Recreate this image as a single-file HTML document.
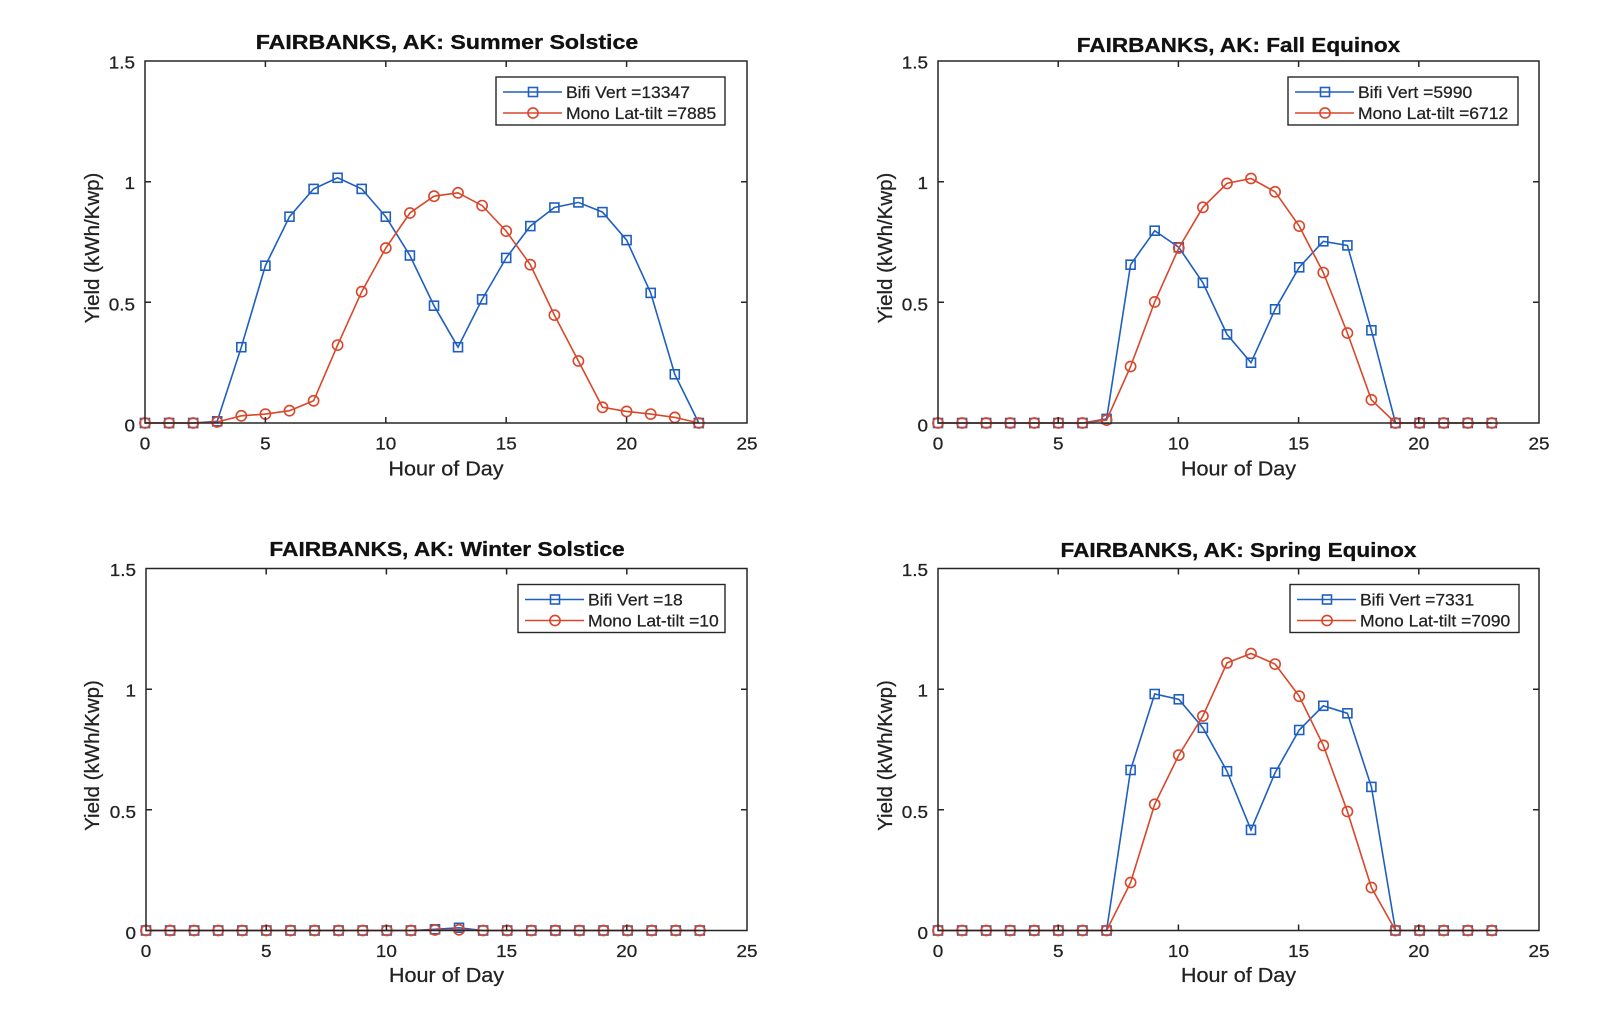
<!DOCTYPE html>
<html>
<head>
<meta charset="utf-8">
<style>
html,body{margin:0;padding:0;background:#fff;}
svg{display:block;}
text{font-family:"Liberation Sans",Arial,sans-serif;fill:#222;stroke:#222;stroke-width:0.25;}
.tk{font-size:17.5px;}
.lg{font-size:16.5px;}
.ttl{font-size:20.5px;font-weight:bold;fill:#111;stroke:#111;stroke-width:0.3;}
.xl{font-size:20px;}
.yl{font-size:20.5px;}
.ax{fill:none;stroke:#262626;stroke-width:1.5;}
.b{fill:none;stroke:#1f5fbf;stroke-width:1.6;marker-start:url(#sq);marker-mid:url(#sq);marker-end:url(#sq);}
.r{fill:none;stroke:#d9472b;stroke-width:1.6;marker-start:url(#ci);marker-mid:url(#ci);marker-end:url(#ci);}
</style>
</head>
<body>
<svg width="1600" height="1013" viewBox="0 0 1600 1013" xmlns="http://www.w3.org/2000/svg">
<defs>
<marker id="sq" markerWidth="14" markerHeight="14" refX="7" refY="7" markerUnits="userSpaceOnUse" overflow="visible"><rect x="2.5" y="2.5" width="9" height="9" fill="none" stroke="#1f5fbf" stroke-width="1.6"/></marker>
<marker id="ci" markerWidth="14" markerHeight="14" refX="7" refY="7" markerUnits="userSpaceOnUse" overflow="visible"><circle cx="7" cy="7" r="5.1" fill="none" stroke="#d9472b" stroke-width="1.6"/></marker>
</defs>
<rect width="1600" height="1013" fill="#fff"/>

<!-- ============ TOP LEFT ============ -->
<g transform="translate(145,61)">
<polyline class="b" points="0,362 24.1,362 48.2,362 72.2,360.3 96.3,286.2 120.4,204.7 144.5,155.7 168.6,127.9 192.6,116.8 216.7,127.9 240.8,155.7 264.9,194.5 289,244.7 313,286.2 337.1,238.4 361.2,196.9 385.3,165.1 409.4,146.5 433.4,141.4 457.5,151.1 481.6,179.1 505.7,231.9 529.8,313.3 553.8,362"/>
<polyline class="r" points="0,362 24.1,362 48.2,362 72.2,361 96.3,354.8 120.4,353.1 144.5,349.7 168.6,339.8 192.6,284.1 216.7,230.7 240.8,187 264.9,152 289,135.2 313,131.8 337.1,144.6 361.2,170.1 385.3,203.7 409.4,254.1 433.4,300 457.5,346.3 481.6,350.4 505.7,353.1 529.8,356.4 553.8,362"/>
<rect class="ax" x="0" y="0" width="602" height="362"/>
<path class="ax" d="M120.4,362v-6M240.8,362v-6M361.2,362v-6M481.6,362v-6M120.4,0v6M240.8,0v6M361.2,0v6M481.6,0v6M0,120.7h6M0,241.3h6M602,120.7h-6M602,241.3h-6"/>
<text class="tk" text-anchor="end" transform="translate(-10,7.5) scale(1.08,1)">1.5</text>
<text class="tk" text-anchor="end" transform="translate(-10,128) scale(1.08,1)">1</text>
<text class="tk" text-anchor="end" transform="translate(-10,249.5) scale(1.08,1)">0.5</text>
<text class="tk" text-anchor="end" transform="translate(-10,370.5) scale(1.08,1)">0</text>
<text class="tk" text-anchor="middle" transform="translate(0,388.5) scale(1.08,1)">0</text>
<text class="tk" text-anchor="middle" transform="translate(120.4,388.5) scale(1.08,1)">5</text>
<text class="tk" text-anchor="middle" transform="translate(240.8,388.5) scale(1.08,1)">10</text>
<text class="tk" text-anchor="middle" transform="translate(361.2,388.5) scale(1.08,1)">15</text>
<text class="tk" text-anchor="middle" transform="translate(481.6,388.5) scale(1.08,1)">20</text>
<text class="tk" text-anchor="middle" transform="translate(602,388.5) scale(1.08,1)">25</text>
<text class="xl" text-anchor="middle" transform="translate(301,414.5) scale(1.08,1)">Hour of Day</text>
<text class="yl" text-anchor="middle" transform="translate(-46,187) rotate(-90)">Yield (kWh/Kwp)</text>
<text class="ttl" text-anchor="middle" transform="translate(302,-12) scale(1.13,1)">FAIRBANKS, AK: Summer Solstice</text>
<g transform="translate(351,16)">
<rect x="0" y="0" width="229" height="48" fill="#fff" stroke="#262626" stroke-width="1.4"/>
<path d="M7,15H66" stroke="#1f5fbf" stroke-width="1.6"/>
<rect x="32.5" y="10.5" width="9" height="9" fill="none" stroke="#1f5fbf" stroke-width="1.6"/>
<path d="M7,36H66" stroke="#d9472b" stroke-width="1.6"/>
<circle cx="37" cy="36" r="5.1" fill="none" stroke="#d9472b" stroke-width="1.6"/>
<text class="lg" transform="translate(70,21) scale(1.06,1)">Bifi Vert =13347</text>
<text class="lg" transform="translate(70,42) scale(1.06,1)">Mono Lat-tilt =7885</text>
</g>
</g>

<!-- ============ TOP RIGHT ============ -->
<g transform="translate(938,61)">
<polyline class="b" points="0,362 24.1,362 48.2,362 72.2,362 96.3,362 120.4,362 144.5,362 168.6,357.9 192.6,203.7 216.7,169.7 240.8,186.3 264.9,221.8 289,273.4 313,301.7 337.1,248.3 361.2,206.3 385.3,180.3 409.4,184.4 433.4,269.3 457.5,362 481.6,362 505.7,362 529.8,362 553.8,362"/>
<polyline class="r" points="0,362 24.1,362 48.2,362 72.2,362 96.3,362 120.4,362 144.5,362 168.6,359.1 192.6,305.5 216.7,240.9 240.8,187 264.9,146.3 289,122.4 313,117.5 337.1,130.8 361.2,165.1 385.3,211.6 409.4,272 433.4,338.8 457.5,362 481.6,362 505.7,362 529.8,362 553.8,362"/>
<rect class="ax" x="0" y="0" width="601" height="362"/>
<path class="ax" d="M120.2,362v-6M240.4,362v-6M360.6,362v-6M480.8,362v-6M120.2,0v6M240.4,0v6M360.6,0v6M480.8,0v6M0,120.7h6M0,241.3h6M601,120.7h-6M601,241.3h-6"/>
<text class="tk" text-anchor="end" transform="translate(-10,7.5) scale(1.08,1)">1.5</text>
<text class="tk" text-anchor="end" transform="translate(-10,128) scale(1.08,1)">1</text>
<text class="tk" text-anchor="end" transform="translate(-10,249.5) scale(1.08,1)">0.5</text>
<text class="tk" text-anchor="end" transform="translate(-10,370.5) scale(1.08,1)">0</text>
<text class="tk" text-anchor="middle" transform="translate(0,388.5) scale(1.08,1)">0</text>
<text class="tk" text-anchor="middle" transform="translate(120.2,388.5) scale(1.08,1)">5</text>
<text class="tk" text-anchor="middle" transform="translate(240.4,388.5) scale(1.08,1)">10</text>
<text class="tk" text-anchor="middle" transform="translate(360.6,388.5) scale(1.08,1)">15</text>
<text class="tk" text-anchor="middle" transform="translate(480.8,388.5) scale(1.08,1)">20</text>
<text class="tk" text-anchor="middle" transform="translate(601,388.5) scale(1.08,1)">25</text>
<text class="xl" text-anchor="middle" transform="translate(300.5,414.5) scale(1.08,1)">Hour of Day</text>
<text class="yl" text-anchor="middle" transform="translate(-46,187) rotate(-90)">Yield (kWh/Kwp)</text>
<text class="ttl" text-anchor="middle" transform="translate(300.5,-9) scale(1.1,1)">FAIRBANKS, AK: Fall Equinox</text>
<g transform="translate(350,16)">
<rect x="0" y="0" width="230" height="48" fill="#fff" stroke="#262626" stroke-width="1.4"/>
<path d="M7,15H66" stroke="#1f5fbf" stroke-width="1.6"/>
<rect x="32.5" y="10.5" width="9" height="9" fill="none" stroke="#1f5fbf" stroke-width="1.6"/>
<path d="M7,36H66" stroke="#d9472b" stroke-width="1.6"/>
<circle cx="37" cy="36" r="5.1" fill="none" stroke="#d9472b" stroke-width="1.6"/>
<text class="lg" transform="translate(70,21) scale(1.06,1)">Bifi Vert =5990</text>
<text class="lg" transform="translate(70,42) scale(1.06,1)">Mono Lat-tilt =6712</text>
</g>
</g>

<!-- ============ BOTTOM LEFT ============ -->
<g transform="translate(146,568.5)">
<polyline class="b" points="0,362 24.1,362 48.2,362 72.2,362 96.3,362 120.4,362 144.5,362 168.6,362 192.6,362 216.7,362 240.8,362 264.9,362 289,360.8 313,359.3 337.1,362 361.2,362 385.3,362 409.4,362 433.4,362 457.5,362 481.6,362 505.7,362 529.8,362 553.8,362"/>
<polyline class="r" points="0,362 24.1,362 48.2,362 72.2,362 96.3,362 120.4,362 144.5,362 168.6,362 192.6,362 216.7,362 240.8,362 264.9,362 289,361.5 313,361.3 337.1,362 361.2,362 385.3,362 409.4,362 433.4,362 457.5,362 481.6,362 505.7,362 529.8,362 553.8,362"/>
<rect class="ax" x="0" y="0" width="601" height="362"/>
<path class="ax" d="M120.2,362v-6M240.4,362v-6M360.6,362v-6M480.8,362v-6M120.2,0v6M240.4,0v6M360.6,0v6M480.8,0v6M0,120.7h6M0,241.3h6M601,120.7h-6M601,241.3h-6"/>
<text class="tk" text-anchor="end" transform="translate(-10,7.5) scale(1.08,1)">1.5</text>
<text class="tk" text-anchor="end" transform="translate(-10,128) scale(1.08,1)">1</text>
<text class="tk" text-anchor="end" transform="translate(-10,249.5) scale(1.08,1)">0.5</text>
<text class="tk" text-anchor="end" transform="translate(-10,370.5) scale(1.08,1)">0</text>
<text class="tk" text-anchor="middle" transform="translate(0,388.5) scale(1.08,1)">0</text>
<text class="tk" text-anchor="middle" transform="translate(120.2,388.5) scale(1.08,1)">5</text>
<text class="tk" text-anchor="middle" transform="translate(240.4,388.5) scale(1.08,1)">10</text>
<text class="tk" text-anchor="middle" transform="translate(360.6,388.5) scale(1.08,1)">15</text>
<text class="tk" text-anchor="middle" transform="translate(480.8,388.5) scale(1.08,1)">20</text>
<text class="tk" text-anchor="middle" transform="translate(601,388.5) scale(1.08,1)">25</text>
<text class="xl" text-anchor="middle" transform="translate(300.5,413.5) scale(1.08,1)">Hour of Day</text>
<text class="yl" text-anchor="middle" transform="translate(-47,187) rotate(-90)">Yield (kWh/Kwp)</text>
<text class="ttl" text-anchor="middle" transform="translate(301,-12.5) scale(1.11,1)">FAIRBANKS, AK: Winter Solstice</text>
<g transform="translate(372,16)">
<rect x="0" y="0" width="207" height="48" fill="#fff" stroke="#262626" stroke-width="1.4"/>
<path d="M7,15H66" stroke="#1f5fbf" stroke-width="1.6"/>
<rect x="32.5" y="10.5" width="9" height="9" fill="none" stroke="#1f5fbf" stroke-width="1.6"/>
<path d="M7,36H66" stroke="#d9472b" stroke-width="1.6"/>
<circle cx="37" cy="36" r="5.1" fill="none" stroke="#d9472b" stroke-width="1.6"/>
<text class="lg" transform="translate(70,21) scale(1.06,1)">Bifi Vert =18</text>
<text class="lg" transform="translate(70,42) scale(1.06,1)">Mono Lat-tilt =10</text>
</g>
</g>

<!-- ============ BOTTOM RIGHT ============ -->
<g transform="translate(938,568.5)">
<polyline class="b" points="0,362 24.1,362 48.2,362 72.2,362 96.3,362 120.4,362 144.5,362 168.6,362 192.6,201.5 216.7,125.5 240.8,130.8 264.9,159.3 289,202.7 313,261.4 337.1,204.2 361.2,161.5 385.3,137.3 409.4,144.8 433.4,218.4 457.5,362 481.6,362 505.7,362 529.8,362 553.8,362"/>
<polyline class="r" points="0,362 24.1,362 48.2,362 72.2,362 96.3,362 120.4,362 144.5,362 168.6,362 192.6,314 216.7,235.8 240.8,186.6 264.9,147.5 289,94.4 313,85 337.1,95.6 361.2,127.7 385.3,176.9 409.4,243 433.4,319 457.5,362 481.6,362 505.7,362 529.8,362 553.8,362"/>
<rect class="ax" x="0" y="0" width="601" height="362"/>
<path class="ax" d="M120.2,362v-6M240.4,362v-6M360.6,362v-6M480.8,362v-6M120.2,0v6M240.4,0v6M360.6,0v6M480.8,0v6M0,120.7h6M0,241.3h6M601,120.7h-6M601,241.3h-6"/>
<text class="tk" text-anchor="end" transform="translate(-10,7.5) scale(1.08,1)">1.5</text>
<text class="tk" text-anchor="end" transform="translate(-10,128) scale(1.08,1)">1</text>
<text class="tk" text-anchor="end" transform="translate(-10,249.5) scale(1.08,1)">0.5</text>
<text class="tk" text-anchor="end" transform="translate(-10,370.5) scale(1.08,1)">0</text>
<text class="tk" text-anchor="middle" transform="translate(0,388.5) scale(1.08,1)">0</text>
<text class="tk" text-anchor="middle" transform="translate(120.2,388.5) scale(1.08,1)">5</text>
<text class="tk" text-anchor="middle" transform="translate(240.4,388.5) scale(1.08,1)">10</text>
<text class="tk" text-anchor="middle" transform="translate(360.6,388.5) scale(1.08,1)">15</text>
<text class="tk" text-anchor="middle" transform="translate(480.8,388.5) scale(1.08,1)">20</text>
<text class="tk" text-anchor="middle" transform="translate(601,388.5) scale(1.08,1)">25</text>
<text class="xl" text-anchor="middle" transform="translate(300.5,413.5) scale(1.08,1)">Hour of Day</text>
<text class="yl" text-anchor="middle" transform="translate(-46,187) rotate(-90)">Yield (kWh/Kwp)</text>
<text class="ttl" text-anchor="middle" transform="translate(300.5,-11.5) scale(1.1,1)">FAIRBANKS, AK: Spring Equinox</text>
<g transform="translate(352,16)">
<rect x="0" y="0" width="229" height="48" fill="#fff" stroke="#262626" stroke-width="1.4"/>
<path d="M7,15H66" stroke="#1f5fbf" stroke-width="1.6"/>
<rect x="32.5" y="10.5" width="9" height="9" fill="none" stroke="#1f5fbf" stroke-width="1.6"/>
<path d="M7,36H66" stroke="#d9472b" stroke-width="1.6"/>
<circle cx="37" cy="36" r="5.1" fill="none" stroke="#d9472b" stroke-width="1.6"/>
<text class="lg" transform="translate(70,21) scale(1.06,1)">Bifi Vert =7331</text>
<text class="lg" transform="translate(70,42) scale(1.06,1)">Mono Lat-tilt =7090</text>
</g>
</g>
</svg>
</body>
</html>
